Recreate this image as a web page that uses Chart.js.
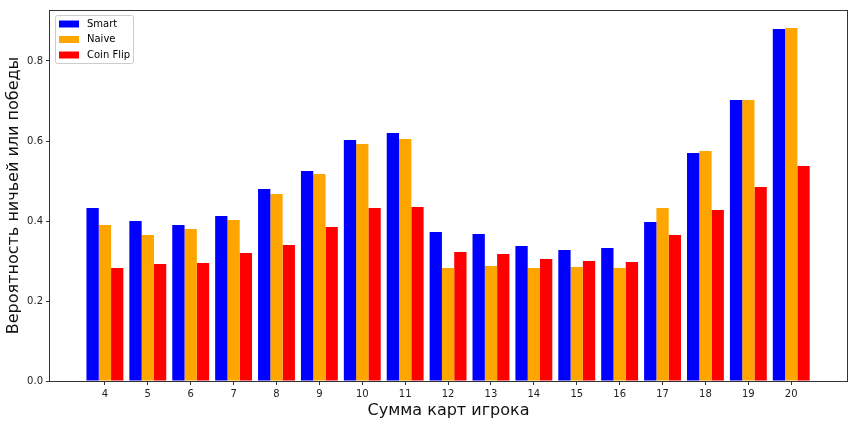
<!DOCTYPE html>
<html><head><meta charset="utf-8">
<script src="https://cdn.jsdelivr.net/npm/chart.js@4/dist/chart.umd.min.js"></script>
<style>html,body{margin:0;padding:0;background:#fff}#wrap{width:856px;height:424px}</style>
</head><body><div id="wrap"><canvas id="c" width="856" height="424"></canvas></div>
<script>
const categories = [4,5,6,7,8,9,10,11,12,13,14,15,16,17,18,19,20];
const smart    = [0.4325,0.400,0.390,0.4125,0.480,0.525,0.6025,0.620,0.3725,0.3675,0.3375,0.3275,0.3325,0.3975,0.570,0.7025,0.880];
const naive    = [0.390,0.365,0.380,0.4025,0.4675,0.5175,0.5925,0.605,0.2825,0.2875,0.2825,0.285,0.2825,0.4325,0.575,0.7025,0.8825];
const coinFlip = [0.2825,0.2925,0.295,0.320,0.340,0.385,0.4325,0.435,0.3225,0.3175,0.305,0.300,0.2975,0.365,0.4275,0.485,0.5375];
const yTicks = [0,0.2,0.4,0.6,0.8];

const pts = arr => arr.map((v,i)=>({x:categories[i], y:v}));
const FONT = "'DejaVu Sans', sans-serif";

const legendPlugin = {
  id:'innerLegend',
  afterDraw(chart){
    const {ctx, chartArea:a} = chart;
    ctx.save();
    ctx.strokeStyle = '#333'; ctx.lineWidth = 1;
    ctx.strokeRect(Math.round(a.left)-0.5, Math.round(a.top)+0.5, Math.round(a.right-a.left)+1, Math.round(a.bottom-a.top));
    const x0 = a.left+5, y0 = a.top+5, w = 78, h = 48;
    ctx.fillStyle = 'rgba(255,255,255,0.8)';
    ctx.strokeStyle = '#ccc';
    ctx.beginPath();
    ctx.roundRect ? ctx.roundRect(x0+0.5,y0+0.5,w,h,2) : ctx.rect(x0+0.5,y0+0.5,w,h);
    ctx.fill(); ctx.stroke();
    ctx.font = "10px " + FONT;
    ctx.textBaseline = 'middle';
    chart.data.datasets.forEach((ds,i)=>{
      const cy = y0 + 9 + i*15.5;
      ctx.fillStyle = ds.backgroundColor;
      ctx.fillRect(x0+4, cy-3.5, 20, 7);
      ctx.fillStyle = '#000';
      ctx.fillText(ds.label, x0+32, cy);
    });
    ctx.restore();
  }
};

new Chart(document.getElementById('c'), {
  type:'bar',
  data:{datasets:[
    {label:'Smart', data:pts(smart), backgroundColor:'#0000ff'},
    {label:'Naive', data:pts(naive), backgroundColor:'#ffa500'},
    {label:'Coin Flip', data:pts(coinFlip), backgroundColor:'#ff0000'}
  ]},
  options:{
    responsive:false, animation:false,
    layout:{padding:{left:0, top:10, right:9, bottom:0}},
    datasets:{bar:{categoryPercentage:0.86, barPercentage:1.0}},
    plugins:{legend:{display:false}, tooltip:{enabled:false}},
    scales:{
      x:{type:'linear', min:2.72, max:21.3, offset:false,
        afterBuildTicks(ax){ ax.ticks = categories.map(v=>({value:v})); },
        afterFit(ax){ ax.height = 43; },
        grid:{display:true, offset:false, drawOnChartArea:false, drawTicks:true, tickLength:4, color:'#333'},
        border:{display:false},
        ticks:{color:'#222', font:{family:FONT, size:10}, padding:3, maxRotation:0, autoSkip:false},
        title:{display:true, text:'Сумма карт игрока', color:'#111', font:{family:FONT, size:16}, padding:{top:0,bottom:4}}
      },
      y:{min:0, max:0.9275,
        afterBuildTicks(ax){ ax.ticks = yTicks.map(v=>({value:v})); },
        afterFit(ax){ ax.width = 50; },
        grid:{display:true, offset:false, drawOnChartArea:false, drawTicks:true, tickLength:4, color:'#333'},
        border:{display:false},
        ticks:{color:'#222', font:{family:FONT, size:10}, padding:3, callback:v=>Number(v).toFixed(1)},
        title:{display:true, text:'Вероятность ничьей или победы', color:'#111', font:{family:FONT, size:16}, padding:{top:4,bottom:0}}
      }
    }
  },
  plugins:[legendPlugin]
});
</script></body></html>
